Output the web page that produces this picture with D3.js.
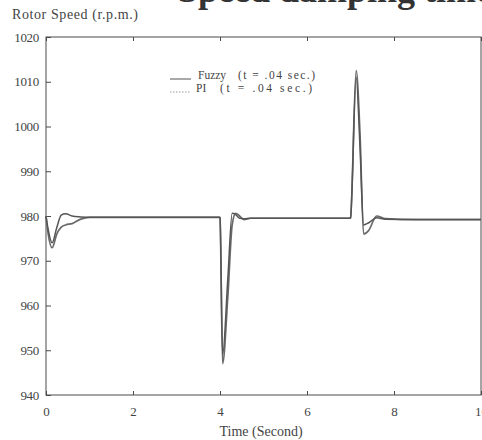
<!DOCTYPE html>
<html>
<head>
<meta charset="utf-8">
<script src="https://cdn.jsdelivr.net/npm/d3@7/dist/d3.min.js"></script>
<style>
  html, body { margin: 0; padding: 0; background: #fff; }
  svg { display: block; }
  text { font-family: "Liberation Serif", "DejaVu Serif", serif; fill: #444; }
</style>
</head>
<body>
<svg id="chart" width="482" height="440"></svg>
<script>
// ---- data ----
const time = [0, 0.05, 0.14, 0.25, 0.35, 0.45, 0.6, 0.8, 1.0, 2, 3, 3.99,
  4.0, 4.06, 4.18, 4.28, 4.36, 4.45, 4.55, 4.7, 5, 6, 6.99,
  7.0, 7.13, 7.22, 7.3, 7.42, 7.6, 7.8, 8.5, 10];
const fuzzy = [980, 977, 974, 977.5, 980.2, 980.5, 980, 979.8, 979.7, 979.7, 979.7, 979.7,
  979.6, 949, 966, 980.6, 980.3, 979.5, 979.4, 979.5, 979.5, 979.5, 979.5,
  979.6, 1011, 995, 978, 978.5, 979.6, 979.3, 979.2, 979.2];
const pi = [980, 976, 972.9, 976, 977.5, 978, 978.3, 979.3, 979.7, 979.7, 979.7, 979.7,
  979.6, 947, 962, 978, 980.6, 980, 979.2, 979.5, 979.5, 979.5, 979.5,
  979.6, 1012.5, 998, 976, 976.8, 980, 979.4, 979.2, 979.2];
const xTicks = [0, 2, 4, 6, 8, 10];
const yTicks = [940, 950, 960, 970, 980, 990, 1000, 1010, 1020];
const legendItems = [
  { name: "Fuzzy", note: "(t = .04 sec.)", dash: null },
  { name: "PI", note: "(t  =  .04 sec.)", dash: "1.5,1.5" }
];

// ---- drawing ----
const svg = d3.select("#chart");
const mLeft = 46, mRight = 481, mTop = 37, mBottom = 395;
const x = d3.scaleLinear().domain([0, 10]).range([mLeft, mRight]);
const y = d3.scaleLinear().domain([940, 1020]).range([mBottom, mTop]);
const ink = "#4a4a4a";

// cut-off heading at top (only the lower part is visible)
svg.append("text").attr("x", 279).attr("y", 2)
  .style("font-size", "36px").style("font-weight", "bold").style("fill", "#333")
  .text("damping time");
svg.append("text").attr("x", 270).attr("y", 2).attr("text-anchor", "end")
  .style("font-size", "36px").style("font-weight", "bold").style("fill", "#333")
  .text("Speed");

// frame
svg.append("rect").attr("x", mLeft).attr("y", mTop)
  .attr("width", mRight - mLeft).attr("height", mBottom - mTop)
  .attr("fill", "none").attr("stroke", ink).attr("stroke-width", 1);

// axes
const xAxisB = d3.axisBottom(x).tickValues(xTicks).tickSizeInner(-4).tickSizeOuter(0).tickPadding(12);
const gxb = svg.append("g").attr("transform", `translate(0,${mBottom})`).call(xAxisB);
const xAxisT = d3.axisTop(x).tickValues(xTicks).tickSizeInner(-4).tickSizeOuter(0).tickFormat("");
const gxt = svg.append("g").attr("transform", `translate(0,${mTop})`).call(xAxisT);
const yAxisL = d3.axisLeft(y).tickValues(yTicks).tickFormat(d3.format("d"))
  .tickSizeInner(-5).tickSizeOuter(0).tickPadding(7);
const gyl = svg.append("g").attr("transform", `translate(${mLeft},0)`).call(yAxisL);
[gxb, gxt, gyl].forEach(g => {
  g.select(".domain").remove();
  g.selectAll(".tick line").attr("stroke", ink);
  g.selectAll(".tick text").style("font-family", "Liberation Serif, serif")
    .style("font-size", "13px").attr("fill", "#444");
});
gyl.selectAll(".tick text").style("letter-spacing", "-0.3px");

// axis titles
svg.append("text").attr("x", 12).attr("y", 19).style("font-size", "14px")
  .attr("textLength", 126).attr("lengthAdjust", "spacing").text("Rotor Speed (r.p.m.)");
svg.append("text").attr("x", 261).attr("y", 436).attr("text-anchor", "middle")
  .style("font-size", "14px").text("Time (Second)");

// lines
const line = vals => d3.line().x((d, i) => x(time[i])).y((d) => y(d)).curve(d3.curveMonotoneX)(vals);
svg.append("path").attr("d", line(pi)).attr("fill", "none")
  .attr("stroke", "#6a6a6a").attr("stroke-width", 1.7);
svg.append("path").attr("d", line(fuzzy)).attr("fill", "none")
  .attr("stroke", "#555").attr("stroke-width", 1.5);

// legend
const lg = svg.append("g");
const noteX = [238, 220], noteW = [77, 92];
legendItems.forEach((d, i) => {
  const yy = 79 + i * 13;
  lg.append("line").attr("x1", 170).attr("x2", 191).attr("y1", yy).attr("y2", yy)
    .attr("stroke", i === 0 ? "#555" : "#999").attr("stroke-width", 1)
    .attr("stroke-dasharray", d.dash);
  lg.append("text").attr("x", i === 0 ? 198 : 196).attr("y", yy)
    .style("font-size", "11.5px").text(d.name);
  lg.append("text").attr("x", noteX[i]).attr("y", yy)
    .attr("textLength", noteW[i]).attr("lengthAdjust", "spacing")
    .style("font-size", "11.5px").text(d.note);
});
</script>
</body>
</html>
